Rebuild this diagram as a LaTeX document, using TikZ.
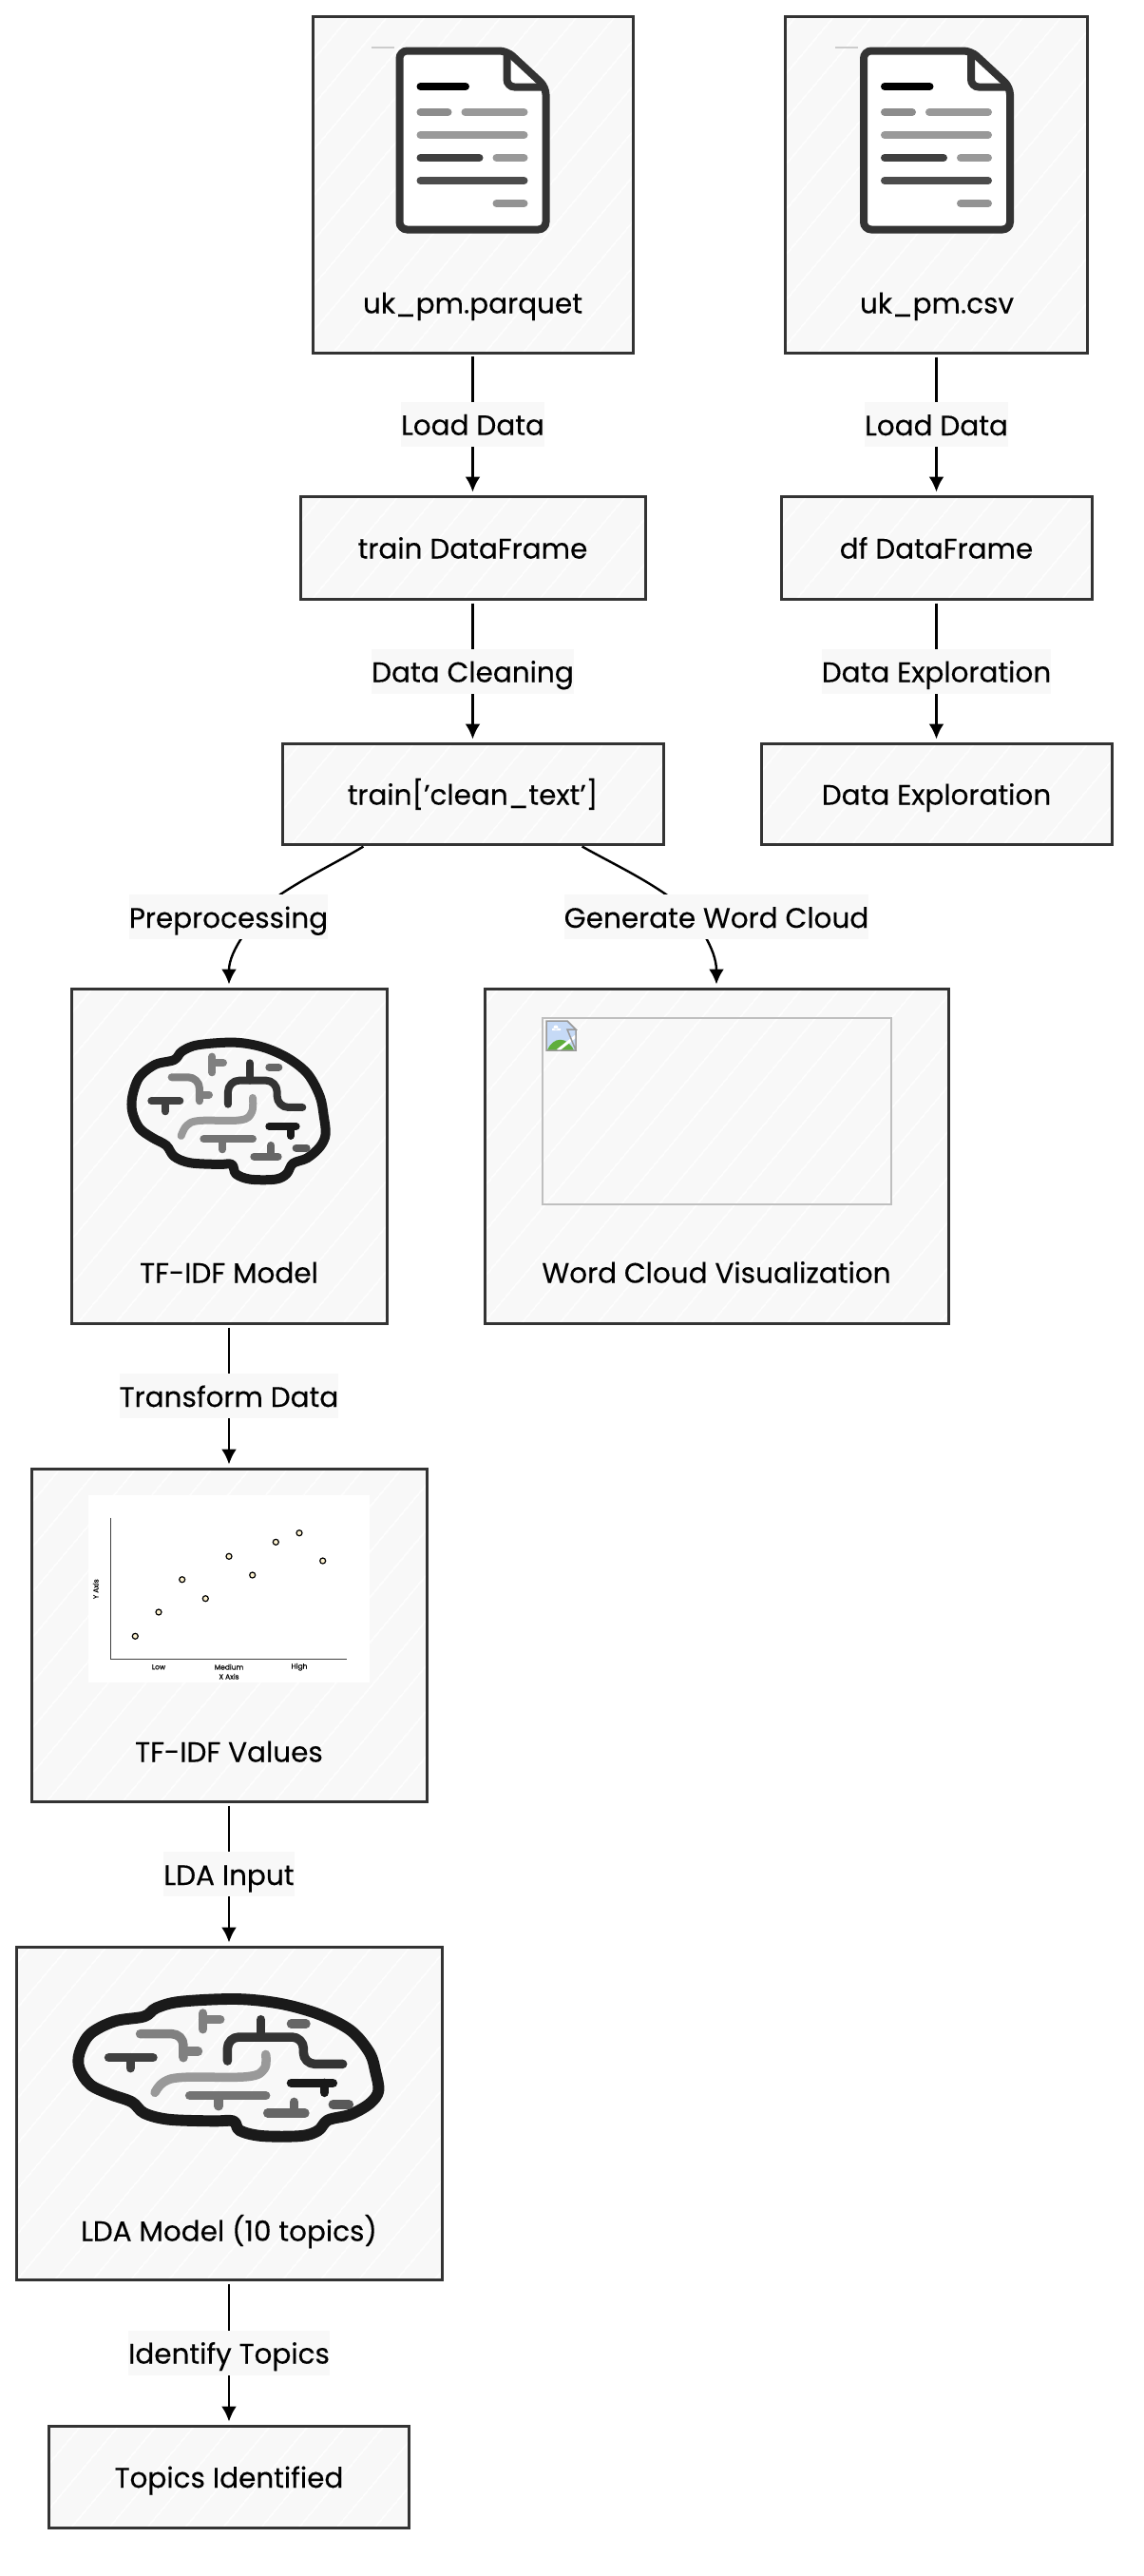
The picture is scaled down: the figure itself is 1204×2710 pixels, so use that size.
\documentclass[tikz,border=0pt]{standalone}
\usepackage{fontspec}
\setmainfont{Poppins}[FakeBold=0.3]
\usepackage{xcolor}
\usetikzlibrary{arrows.meta,patterns.meta,positioning}
\definecolor{boxfill}{HTML}{F8F8F8}
\definecolor{boxline}{HTML}{333333}
\definecolor{inkline}{HTML}{1A1A1A}
\definecolor{dotfill}{HTML}{FFF4D2}
\definecolor{skyfill}{HTML}{C6DAF6}
\definecolor{hillfill}{HTML}{5FAE3C}
\tikzset{
    pics/docicon/.style={code={
        \draw[black!80, line width=8pt, rounded corners=8pt, fill=white]
            (-77,-94) -- (36,-94) -- (77,-56) -- (77,94) -- (-77,94) -- cycle;
        \draw[black!80, line width=8pt, rounded corners=8pt]
            (36,-94) -- (36,-56) -- (77,-56);
        \draw[black, docrow] (-55,-56.5) -- (-7.5,-56.5);
        \draw[gray!90, docrow] (-55,-29.5) -- (-26,-29.5);
        \draw[gray!80, docrow] (-8,-29.5) -- (54,-29.5);
        \draw[gray!80, docrow] (-55,-5.5) -- (54,-5.5);
        \draw[black!75, docrow] (-55,18.5) -- (7,18.5);
        \draw[gray!80, docrow] (25,18.5) -- (54,18.5);
        \draw[black!70, docrow] (-55,42.5) -- (54,42.5);
        \draw[gray!85, docrow] (25,66.5) -- (54,66.5);
        \draw[black!20, line width=1.5pt] (-107,-97.5) -- (-83,-97.5);
    }},
    pics/brainicon/.style={code={
        \begin{scope}[shift={(-191,-138.33)},scale=.3333,line width=#1pt,line cap=round,line join=round]
        \draw[inkline, line width=#1*1.25pt] plot[smooth cycle,tension=.55] coordinates {
            (400,255) (425,228) (475,208) (590,200) (680,215) (760,250) (822,300) (860,370)
            (872,430) (878,490) (860,530) (820,565) (775,582) (755,615) (720,632) (640,632)
            (595,615) (582,585) (540,585) (450,580) (400,560) (375,525) (330,500) (290,470)
            (268,420) (268,370) (290,310) (340,270)};
        \draw[black!50, rounded corners=12pt] (392,310) -- (480,310) -- (480,385);
        \draw[black!50] (480,365) -- (510,365);
        \draw[black!50] (520,245) -- (520,295);
        \draw[black!50] (520,265) -- (555,265);
        \draw[black!80, rounded corners=12pt] (570,395) -- (570,320) -- (725,320) -- (725,405) -- (805,405);
        \draw[black!80] (638,265) -- (638,320);
        \draw[black!60] (700,278) -- (730,278);
        \draw[black!75] (328,385) -- (418,385);
        \draw[black!75] (372,385) -- (372,418);
        \draw[black!40] plot[smooth,tension=.6] coordinates {
            (648,375) (645,420) (610,445) (480,447) (440,462) (422,495)};
        \draw[black!55] (493,505) -- (648,505);
        \draw[black!55] (552,505) -- (552,538);
        \draw[black!90] (700,465) -- (785,465);
        \draw[black!90] (768,465) -- (768,495);
        \draw[black!65] (785,533) -- (818,533);
        \draw[black!60] (652,560) -- (728,560);
        \draw[black!60] (706,525) -- (706,560);
        \end{scope}
    }}
}
\begin{document}
\begin{tikzpicture}[
    x=1pt, y=-1pt,
    docrow/.style={line width=8pt, line cap=round},
    labelfont/.style={font=\fontsize{29.5}{34}\selectfont, text=black, text height=26pt, text depth=3pt},
    sketchbox/.style={rectangle, draw=boxline, line width=3pt, labelfont,
        preaction={fill=boxfill},
        pattern={Lines[angle=50,distance=30pt,line width=1.6pt]}, pattern color=white,
        inner sep=0pt},
    boxtitle/.style={labelfont, inner sep=0pt},
    edgelabel/.style={labelfont, fill=boxfill, inner xsep=0pt, inner ysep=0pt, minimum height=47pt},
    flow/.style={draw=black, line width=2.4pt, shorten <=3pt, shorten >=3pt, -{Latex[length=16pt,width=16pt]}},
    chartlabel/.style={font=\fontsize{7.5}{9}\selectfont, inner sep=0pt}
]
    \useasboundingbox (0,0) rectangle (1204,2710);

    \node[sketchbox, minimum width=337pt, minimum height=354pt] (parquet) at (497.5,194) {};
    \node[sketchbox, minimum width=318pt, minimum height=354pt] (csv) at (985.5,194) {};
    \node[sketchbox, minimum width=363pt, minimum height=108pt] (train) at (497.5,576) {train DataFrame};
    \node[sketchbox, minimum width=327pt, minimum height=108pt] (dfframe) at (985.5,576) {df DataFrame};
    \node[sketchbox, minimum width=401pt, minimum height=106pt] (clean) at (497.5,835) {train['clean\_text']};
    \node[sketchbox, minimum width=369pt, minimum height=106pt] (explore) at (985.5,835) {Data Exploration};
    \node[sketchbox, minimum width=332pt, minimum height=352pt] (tfidf) at (241,1216) {};
    \node[sketchbox, minimum width=488pt, minimum height=352pt] (cloud) at (754,1216) {};
    \node[sketchbox, minimum width=416pt, minimum height=350pt] (values) at (241,1720) {};
    \node[sketchbox, minimum width=448pt, minimum height=350pt] (lda) at (241,2223) {};
    \node[sketchbox, minimum width=379pt, minimum height=107pt] (topics) at (241,2605.5) {Topics Identified};

    \pic at (497.5,147.5) {docicon};
    \pic at (986,147.5) {docicon};
    \pic at (241,1168.3) {brainicon=8};
    \pic[xscale=1.548] at (241,2174.7) {brainicon=9.5};

    % broken image inside the word cloud box
    \node[rectangle, draw=black!25, line width=2pt, minimum width=367pt, minimum height=196pt] (cloudimg) at (754.5,1169) {};
    \fill[skyfill] (575,1074) rectangle (606,1105);
    \fill[hillfill] (576,1105) .. controls (582,1090) and (597,1090) .. (604,1105) -- cycle;
    \fill[white] (581,1082) rectangle (590,1084) (585,1081) circle (2.5);
    \fill[boxfill] (597,1074) -- (606,1074) -- (606,1083) -- cycle;
    \draw[white, line width=3pt] (587,1105) -- (606,1090);
    \draw[gray!80, line width=1.5pt] (606,1105) -- (575,1105) -- (575,1074) -- (597,1074) -- (606,1083) -- (597,1083) -- cycle (606,1083) -- (606,1105);

    % scatter chart inside the values box
    \node[rectangle, fill=white, minimum width=296pt, minimum height=197pt] (chartimg) at (241,1671.5) {};
    \draw[black!75, line width=1pt] (116.7,1596.7) -- (116.7,1745.7) -- (365,1745.7);
    \foreach \px/\py in {142.3/1721.3, 167/1696, 191.7/1661.7, 216.3/1681.7, 241/1637.3,
                         265.7/1657, 290.3/1622.3, 315/1612.7, 339.7/1642}
        \draw[black, line width=1.2pt, fill=dotfill] (\px,\py) circle (3);
    \node[chartlabel] (lowtick) at (167,1753.7) {Low};
    \node[chartlabel] (medtick) at (241,1753.7) {Medium};
    \node[chartlabel] (hightick) at (315,1753.7) {High};
    \node[chartlabel] (xaxis) at (241,1763.7) {X Axis};
    \node[chartlabel, rotate=90] (yaxis) at (100.7,1671.7) {Y Axis};

    \node[boxtitle] (parquettitle) at (497.5,318) {uk\_pm.parquet};
    \node[boxtitle] (csvtitle) at (986,318) {uk\_pm.csv};
    \node[boxtitle] (tfidftitle) at (241,1338) {TF-IDF Model};
    \node[boxtitle] (cloudtitle) at (754,1338) {Word Cloud Visualization};
    \node[boxtitle] (valuestitle) at (241,1842) {TF-IDF Values};
    \node[boxtitle] (ldatitle) at (241,2346) {LDA Model (10 topics)};

    \draw[flow] (parquet) -- node[edgelabel] (loadleft) {Load Data} (train);
    \draw[flow] (csv) -- node[edgelabel] (loadright) {Load Data} (dfframe);
    \draw[flow] (train) -- node[edgelabel] (cleaning) {Data Cleaning} (clean);
    \draw[flow] (dfframe) -- node[edgelabel] (exploring) {Data Exploration} (explore);
    \draw[flow] (tfidf) -- node[edgelabel] (transform) {Transform Data} (values);
    \draw[flow] (values) -- node[edgelabel] (ldainput) {LDA Input} (lda);
    \draw[flow] (lda) -- node[edgelabel] (identify) {Identify Topics} (topics);

    \coordinate (prepstart) at (385,889);
    \coordinate (cloudstart) at (610,889);
    \draw[flow] (prepstart) .. controls (355,907) and (325,921) .. (295,941)
        .. controls (265,968) and (241,1000) .. (tfidf.north);
    \draw[flow] (cloudstart) .. controls (640,906) and (672,921) .. (701,941)
        .. controls (735,965) and (754,1000) .. (cloud.north);
    \node[edgelabel] (preproc) at (240.5,964.5) {Preprocessing};
    \node[edgelabel] (wordcloud) at (754,964.5) {Generate Word Cloud};
\end{tikzpicture}
\end{document}
